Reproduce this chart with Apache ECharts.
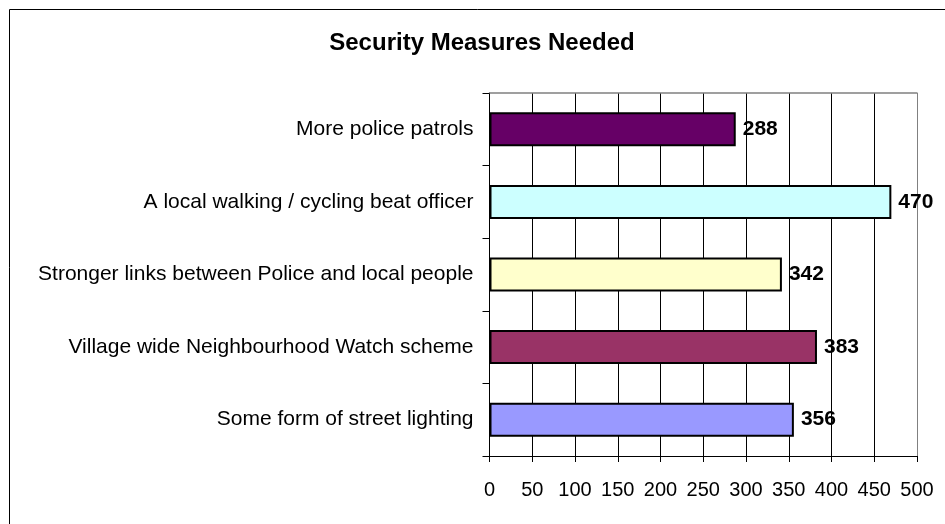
<!DOCTYPE html>
<html>
<head>
<meta charset="utf-8">
<script src="https://cdn.jsdelivr.net/npm/echarts@6/dist/echarts.min.js"></script>
<style>
html,body{margin:0;padding:0;background:#fff;}
#main{width:945px;height:524px;}
</style>
</head>
<body>
<div id="main"></div>
<script>
const titleText = 'Security Measures Needed';
const categories = [
  'More police patrols',
  'A local walking / cycling beat officer',
  'Stronger links between Police and local people',
  'Village wide Neighbourhood Watch scheme',
  'Some form of street lighting'
];
const values = [288, 470, 342, 383, 356];
const barColors = ['#660066', '#CCFFFF', '#FFFFCC', '#993366', '#9999FF'];
const axisMin = 0, axisMax = 500, axisStep = 50;

const FONT = '"Liberation Sans", Arial, sans-serif';
const gridColors = [];
for (let v = axisMin; v <= axisMax; v += axisStep) gridColors.push(v === axisMax ? '#808080' : '#000000');

const chart = echarts.init(document.getElementById('main'), null, {renderer: 'canvas'});
chart.setOption({
  backgroundColor: '#ffffff',
  animation: false,
  title: {
    text: titleText,
    left: 482, top: 31, textAlign: 'center', padding: 0,
    textStyle: {fontFamily: FONT, fontSize: 24, fontWeight: 'bold', color: '#000'}
  },
  graphic: [{
    type: 'rect', left: 7, top: 7, silent: true, z: -10,
    shape: {width: 1100, height: 1100},
    style: {fill: 'none', stroke: '#000', lineWidth: 1}
  }],
  grid: {left: 489.5, right: 28, top: 93, bottom: 68, containLabel: false},
  xAxis: [{
    type: 'value', min: axisMin, max: axisMax, interval: axisStep,
    axisLine: {show: true, lineStyle: {color: '#000', width: 1}},
    axisTick: {show: true, length: 6, lineStyle: {color: '#000'}},
    axisLabel: {fontFamily: FONT, fontSize: 20, color: '#000', margin: 24},
    splitLine: {show: true, lineStyle: {color: gridColors, width: 1}}
  }, {
    type: 'value', position: 'top', min: axisMin, max: axisMax, interval: axisStep,
    axisLine: {show: true, lineStyle: {color: '#808080', width: 1.5}},
    axisTick: {show: false}, axisLabel: {show: false}, splitLine: {show: false}
  }],
  yAxis: {
    type: 'category', data: categories, inverse: true,
    axisLine: {show: true, lineStyle: {color: '#000', width: 1}},
    axisTick: {show: true, length: 7, lineStyle: {color: '#000'}},
    axisLabel: {fontFamily: FONT, fontSize: 21, color: '#000', margin: 16},
    splitLine: {show: false}
  },
  series: [{
    type: 'bar',
    xAxisIndex: 0,
    data: values.map((v, i) => ({value: v, itemStyle: {color: barColors[i]}})),
    barWidth: 34,
    itemStyle: {borderColor: '#000', borderWidth: 2},
    label: {
      show: true, position: 'right', distance: 7,
      fontFamily: FONT, fontSize: 21, fontWeight: 'bold', color: '#000'
    }
  }]
});
</script>
</body>
</html>
